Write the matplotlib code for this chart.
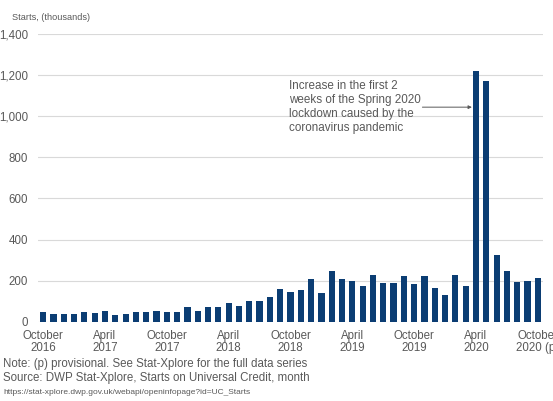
import matplotlib
matplotlib.use("Agg")
import matplotlib.pyplot as plt
import numpy as np

months = ["Oct 2016", "Nov 2016", "Dec 2016", "Jan 2017", "Feb 2017", "Mar 2017",
          "Apr 2017", "May 2017", "Jun 2017", "Jul 2017", "Aug 2017", "Sep 2017",
          "Oct 2017", "Nov 2017", "Dec 2017", "Jan 2018", "Feb 2018", "Mar 2018",
          "Apr 2018", "May 2018", "Jun 2018", "Jul 2018", "Aug 2018", "Sep 2018",
          "Oct 2018", "Nov 2018", "Dec 2018", "Jan 2019", "Feb 2019", "Mar 2019",
          "Apr 2019", "May 2019", "Jun 2019", "Jul 2019", "Aug 2019", "Sep 2019",
          "Oct 2019", "Nov 2019", "Dec 2019", "Jan 2020", "Feb 2020", "Mar 2020",
          "Apr 2020", "May 2020", "Jun 2020", "Jul 2020", "Aug 2020", "Sep 2020",
          "Oct 2020"]
starts = [49, 36, 36, 36, 47, 42, 50, 33, 36, 45, 45, 54,
          47, 49, 73, 50, 72, 72, 93, 78, 102, 99, 121, 157,
          146, 153, 207, 139, 249, 208, 200, 172, 226, 190, 187, 220,
          185, 223, 166, 129, 229, 173, 1219, 1171, 326, 245, 192, 200,
          213]
tick_pos = [0, 6, 12, 18, 24, 30, 36, 42, 48]
tick_labels = ["October\n2016", "April\n2017", "October\n2017", "April\n2018",
               "October\n2018", "April\n2019", "October\n2019", "April\n2020",
               "October\n2020 (p)"]
y_ticks = [0, 200, 400, 600, 800, 1000, 1200, 1400]

plt.rcParams['font.family'] = ['Liberation Sans', 'DejaVu Sans']
gray = "#595959"
navy = "#0b3d73"
narrow = ['Liberation Sans Narrow', 'Liberation Sans']

fig = plt.figure(figsize=(5.53, 4.01), dpi=100)
ax = fig.add_axes([38/553, 1 - 321.7/401, (543 - 38)/553, (321.7 - 34)/401])

x = np.arange(len(starts))
ax.bar(x, starts, width=0.6, color=navy, zorder=3)
ax.set_xlim(-0.5, len(starts) - 0.5)
ax.set_ylim(0, 1400)
ax.set_yticks(y_ticks)
ax.set_yticklabels([f"{v:,}" for v in y_ticks], fontfamily=narrow)
ax.set_xticks(tick_pos)
ax.set_xticklabels(tick_labels, fontfamily=narrow, multialignment='center',
                   linespacing=1.05)
ax.tick_params(axis='both', length=0, labelsize=8.3, colors=gray)
ax.tick_params(axis='y', pad=7)
ax.tick_params(axis='x', pad=6)
ax.yaxis.grid(True, color="#d9d9d9", linewidth=0.8, zorder=0)
for s in ax.spines.values():
    s.set_visible(False)

fig.text(12/553, 1 - 17/401, "Starts, (thousands)", fontsize=6.6, color=gray,
         va='center', ha='left')

ax.annotate("", xy=(41.6, 1044), xytext=(36.8, 1044),
            arrowprops=dict(arrowstyle='-|>', color=gray, lw=0.7,
                            mutation_scale=5, shrinkA=0, shrinkB=0))
ax.text(23.9, 1044, "Increase in the first 2\nweeks of the Spring 2020\nlockdown caused by the\ncoronavirus pandemic",
        fontsize=8.4, color=gray, ha='left', va='center', linespacing=1.2)

fig.text(3/553, 1 - 364/401, "Note: (p) provisional. See Stat-Xplore for the full data series",
         fontsize=8.3, color=gray, ha='left', va='center')
fig.text(3/553, 1 - 378/401, "Source: DWP Stat-Xplore, Starts on Universal Credit, month",
         fontsize=8.3, color=gray, ha='left', va='center')
fig.text(3/553, 1 - 392/401, "https://stat-xplore.dwp.gov.uk/webapi/openinfopage?id=UC_Starts",
         fontsize=6.0, color=gray, ha='left', va='center')

fig.savefig("out.png", dpi=100)
